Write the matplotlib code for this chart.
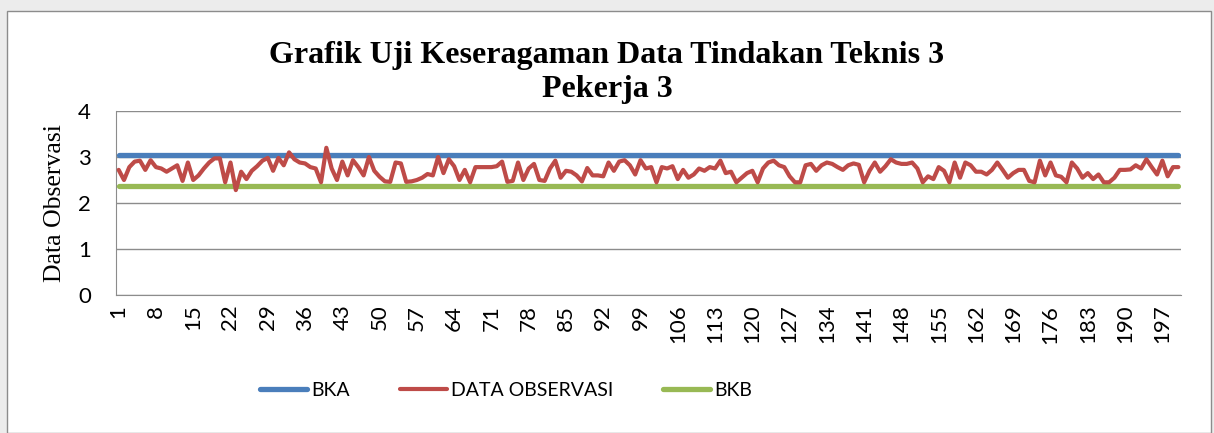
import matplotlib.pyplot as plt
from matplotlib.patches import Rectangle
import numpy as np

# Data
bka = 3.04
bkb = 2.37
data_observasi = [
    2.72, 2.50, 2.78, 2.90, 2.92, 2.72, 2.93, 2.78, 2.75, 2.68,
    2.75, 2.82, 2.48, 2.88, 2.50, 2.60, 2.75, 2.88, 2.97, 2.97,
    2.45, 2.88, 2.28, 2.68, 2.52, 2.70, 2.80, 2.92, 2.98, 2.70,
    2.98, 2.82, 3.10, 2.95, 2.88, 2.86, 2.78, 2.75, 2.45, 3.20,
    2.75, 2.50, 2.90, 2.60, 2.93, 2.78, 2.60, 3.00, 2.70, 2.57,
    2.47, 2.46, 2.88, 2.86, 2.46, 2.47, 2.50, 2.55, 2.63, 2.60,
    3.00, 2.65, 2.95, 2.80, 2.50, 2.72, 2.45, 2.78, 2.78, 2.78,
    2.78, 2.80, 2.90, 2.46, 2.48, 2.88, 2.50, 2.75, 2.85, 2.50,
    2.48, 2.75, 2.92, 2.55, 2.70, 2.68, 2.60, 2.47, 2.76, 2.60,
    2.60, 2.58, 2.88, 2.70, 2.90, 2.93, 2.82, 2.62, 2.93, 2.75,
    2.78, 2.45, 2.78, 2.75, 2.80, 2.52, 2.72, 2.55, 2.62, 2.75,
    2.70, 2.78, 2.75, 2.92, 2.65, 2.68, 2.45, 2.55, 2.65, 2.70,
    2.45, 2.75, 2.88, 2.92, 2.82, 2.78, 2.58, 2.45, 2.45, 2.82,
    2.85, 2.70, 2.82, 2.88, 2.85, 2.78, 2.72, 2.82, 2.86, 2.83,
    2.45, 2.70, 2.88, 2.68, 2.80, 2.95, 2.88, 2.85, 2.85, 2.88,
    2.75, 2.45, 2.58, 2.52, 2.78, 2.70, 2.45, 2.88, 2.55, 2.88,
    2.82, 2.68, 2.68, 2.62, 2.72, 2.88, 2.72, 2.55, 2.65, 2.72,
    2.72, 2.48, 2.45, 2.92, 2.60, 2.88, 2.60, 2.57, 2.45, 2.88,
    2.75, 2.55, 2.65, 2.52, 2.62, 2.45, 2.45, 2.55, 2.72, 2.72,
    2.73, 2.82, 2.75, 2.95, 2.78, 2.62, 2.92, 2.58, 2.78, 2.78,
]
n = len(data_observasi)
x = np.arange(1, n + 1)
tick_pos = list(range(1, n + 1, 7))

fig = plt.figure(figsize=(12.14, 4.33), dpi=100, facecolor='#ececec')

# white chart area with border
fig.patches.append(Rectangle((7 / 1214, 0), 1204 / 1214, 422 / 433,
                             transform=fig.transFigure, facecolor='white',
                             edgecolor='#8c8c8c', linewidth=1.0, zorder=-5))

ax = fig.add_axes([116 / 1214, 1 - 295 / 433, 1065 / 1214, 184 / 433])
ax.set_zorder(2)
ax.set_facecolor('white')

ax.plot(x, [bka] * n, color='#4a7ebb', linewidth=3.8, solid_capstyle='round', label='BKA', zorder=3)
ax.plot(x, data_observasi, color='#be4b48', linewidth=3.0, solid_capstyle='round',
        solid_joinstyle='round', label='DATA OBSERVASI', zorder=4)
ax.plot(x, [bkb] * n, color='#98b954', linewidth=3.8, solid_capstyle='round', label='BKB', zorder=3)

ax.set_xlim(0.5, n + 0.5)
ax.set_ylim(0, 4)
ax.set_yticks([0, 1, 2, 3, 4])
ax.grid(axis='y', color='#8c8c8c', linewidth=1.0)
ax.set_axisbelow(True)
ax.set_xticks(tick_pos)
ax.set_xticklabels([str(t) for t in tick_pos], rotation=90, fontsize=16, family='Lato')
ax.tick_params(axis='x', length=0, pad=7)
ax.tick_params(axis='y', length=0, pad=18, labelsize=16)
for lbl in ax.get_yticklabels():
    lbl.set_family('Lato')
for s in ['top', 'right']:
    ax.spines[s].set_visible(False)
ax.spines['left'].set_color('#8c8c8c')
ax.spines['bottom'].set_color('#8c8c8c')

ax.set_ylabel('Data Observasi', fontsize=18.5, family='Liberation Serif', labelpad=9)

fig.text(0.5, 1 - 56 / 433, 'Grafik Uji Keseragaman Data Tindakan Teknis 3',
         ha='center', va='center', fontsize=23, fontweight='bold', family='Liberation Serif')
fig.text(0.5, 1 - 89 / 433, 'Pekerja 3',
         ha='center', va='center', fontsize=23, fontweight='bold', family='Liberation Serif')

leg = fig.legend(loc='center', bbox_to_anchor=(506 / 1214, 1 - 390 / 433), ncol=3, frameon=False,
                 prop={'family': 'Lato', 'size': 14}, handlelength=2.4, handletextpad=0.2,
                 columnspacing=2.6)

fig.savefig('out.png', dpi=100, facecolor=fig.get_facecolor())
